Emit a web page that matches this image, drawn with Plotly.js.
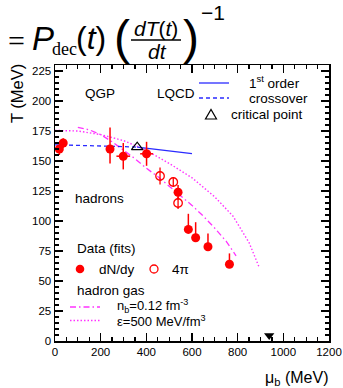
<!DOCTYPE html>
<html><head><meta charset="utf-8">
<script src="https://cdn.plot.ly/plotly-3.0.1.min.js"></script>
<style>html,body{margin:0;padding:0;background:#fff}#plot{width:343px;height:388px}</style>
</head><body><div id="plot"></div>
<script>
// ---- data ----
const dndyMu = [19, 36, 241, 299, 401, 539, 584, 616, 670, 764];
const dndyT = [160, 165, 160, 154, 156, 124, 93, 86, 78.5, 64];
const dndyTErrPlus = [0, 4, 18, 11, 10, 6, 13, 13, 11, 9];
const dndyTErrMinus = [5, 4, 12, 11, 10, 6, 0, 0, 0, 0];
const dndyMuErr = [0, 0, 0, 30, 28, 0, 0, 0, 0, 0];
const fourPiMu = [460, 518, 539];
const fourPiT = [137.5, 132.5, 115];
const fourPiTErr = [7, 4, 5];
const firstOrderMu = [360, 450, 530, 600];
const firstOrderT = [161.5, 159.5, 157.8, 156.2];
const crossoverMu = [0, 100, 200, 300, 360];
const crossoverT = [163.5, 163.2, 162.6, 162.0, 161.5];
const critMu = [360];
const critT = [161.5];
const nbMu = [100, 150, 200, 250, 300, 350, 400, 450, 500, 550, 600, 650, 700, 750, 793];
const nbT = [178, 176, 172, 166, 159, 152, 144, 137, 129, 121, 113, 104, 94, 83, 71];
const epsMu = [0, 100, 200, 300, 400, 500, 600, 700, 780, 850, 895];
const epsT = [175.5, 175, 172, 167, 159, 148, 136, 120, 104, 82, 61];
const nucleonMu = [938];
const nucleonT = [4.5];
const xTicks = [0, 200, 400, 600, 800, 1000, 1200];
const yTicks = [0, 25, 50, 75, 100, 125, 150, 175, 200, 225];

// ---- layout helpers ----
const W = 343, H = 388, L = 55, R = 14, T = 65, B = 47;
const pw = W - L - R, ph = H - T - B;
const px = x => (x - L) / pw;
const py = y => (H - B - y) / ph;
const SANS = 'Liberation Sans, Arial, sans-serif';
const SERIF = 'Liberation Serif, Times New Roman, serif';
const RED = '#ff0000', BLUE = '#2a2aff', MAG = '#ff33ff';
const DASH = '4px,3px', DASHDOT = '6px,3px,1.5px,3px', DOT = '1.5px,2px';

const traces = [
  {x: epsMu, y: epsT, mode: 'lines', line: {color: MAG, width: 1.4, dash: DOT}},
  {x: nbMu, y: nbT, mode: 'lines', line: {color: MAG, width: 1.3, dash: DASHDOT}},
  {x: crossoverMu, y: crossoverT, mode: 'lines', line: {color: BLUE, width: 1.3, dash: DASH}},
  {x: firstOrderMu, y: firstOrderT, mode: 'lines', line: {color: BLUE, width: 1.3}},
  {x: dndyMu, y: dndyT, mode: 'markers', marker: {color: RED, size: 9, symbol: 'circle'},
   error_y: {type: 'data', symmetric: false, array: dndyTErrPlus, arrayminus: dndyTErrMinus, color: RED, thickness: 1.5, width: 0},
   error_x: {type: 'data', array: dndyMuErr, color: RED, thickness: 1.5, width: 0}},
  {x: fourPiMu, y: fourPiT, mode: 'markers', marker: {color: RED, size: 8.5, symbol: 'circle-open', line: {color: RED, width: 1.3}},
   error_y: {type: 'data', array: fourPiTErr, color: RED, thickness: 1.3, width: 0}},
  {x: critMu, y: critT, mode: 'markers', marker: {color: '#000', size: 10, symbol: 'triangle-up-open', line: {color: '#000', width: 1.2}}},
  {x: nucleonMu, y: nucleonT, mode: 'markers', marker: {color: '#000', size: 9, symbol: 'triangle-down'}}
];

function txt(text, x, y, size, opts) {
  return Object.assign({text: text, x: px(x), y: py(y), xref: 'paper', yref: 'paper', showarrow: false,
    xanchor: 'left', yanchor: 'middle', font: {family: SANS, size: size, color: '#000'}}, opts || {});
}

const annotations = [
  // formula strip at top
  txt('=', 16, 40, 30, {xanchor: 'center', font: {family: SERIF, size: 30, color: '#000'}}),
  txt('<i>P</i>', 43, 38, 33, {xanchor: 'center'}),
  txt('dec', 50, 49, 18, {font: {family: SERIF, size: 18, color: '#000'}}),
  txt('(<i>t</i>)', 74, 38, 32),
  txt('(', 112, 37, 48),
  txt('<i>dT</i>(<i>t</i>)', 156, 28, 21, {xanchor: 'center'}),
  txt('<i>dt</i>', 157, 51, 21, {xanchor: 'center'}),
  txt(')', 181, 37, 48),
  txt('\u22121', 199, 12, 21),
  // axis titles
  txt('T (MeV)', 17, 94, 16.5, {xanchor: 'center', textangle: -90}),
  txt('\u03bc<sub>b</sub> (MeV)', 296, 378, 16, {xanchor: 'center'}),
  // labels in plot
  txt('QGP', 83, 93, 13.5),
  txt('LQCD', 155, 93, 13.5),
  txt('1<sup>st</sup> order', 247, 82, 13.5),
  txt('crossover', 247, 98, 13.5),
  txt('critical point', 229, 114, 13.5),
  txt('hadrons', 73, 198, 13.5),
  txt('Data (fits)', 75, 248, 13.5),
  txt('dN/dy', 97, 269, 13.5),
  txt('4\u03c0', 170, 269, 13.5),
  txt('hadron gas', 75, 290, 13.5),
  txt('n<sub>b</sub>=0.12 fm<sup>-3</sup>', 115, 305.5, 13),
  txt('\u03b5=500 MeV/fm<sup>3</sup>', 115, 321, 13)
];

const shapes = [
  {type: 'line', xref: 'paper', yref: 'paper', x0: px(131), x1: px(181), y0: py(40), y1: py(40), line: {color: '#000', width: 1.3}},
  {type: 'line', xref: 'paper', yref: 'paper', x0: px(199), x1: px(229), y0: py(83), y1: py(83), line: {color: BLUE, width: 1.3}},
  {type: 'line', xref: 'paper', yref: 'paper', x0: px(199), x1: px(229), y0: py(98), y1: py(98), line: {color: BLUE, width: 1.3, dash: DASH}},
  {type: 'path', xref: 'paper', yref: 'paper', path: 'M' + px(205.5) + ',' + py(119) + ' L' + px(216.5) + ',' + py(119) + ' L' + px(211) + ',' + py(109.5) + ' Z', line: {color: '#000', width: 1.2}},
  {type: 'circle', xref: 'paper', yref: 'paper', x0: px(75.7), x1: px(84.3), y0: py(264.7), y1: py(273.3), fillcolor: RED, line: {color: RED, width: 0}},
  {type: 'circle', xref: 'paper', yref: 'paper', x0: px(150), x1: px(158), y0: py(265), y1: py(273), line: {color: RED, width: 1.3}},
  {type: 'line', xref: 'paper', yref: 'paper', x0: px(70), x1: px(100), y0: py(307), y1: py(307), line: {color: MAG, width: 1.3, dash: DASHDOT}},
  {type: 'line', xref: 'paper', yref: 'paper', x0: px(70), x1: px(100), y0: py(320.5), y1: py(320.5), line: {color: MAG, width: 1.4, dash: DOT}}
];

const axisCommon = {showgrid: false, zeroline: false, showline: true, linecolor: '#000', linewidth: 1.5,
  ticks: 'inside', ticklen: 8, tickwidth: 1.2, tickcolor: '#000', mirror: 'allticks',
  tickfont: {family: SANS, size: 11.5, color: '#000'}};

const layout = {
  width: W, height: H, margin: {l: L, r: R, t: T, b: B},
  paper_bgcolor: '#fff', plot_bgcolor: '#fff', showlegend: false,
  xaxis: Object.assign({}, axisCommon, {range: [0, 1200], tickvals: xTicks, ticktext: xTicks.map(String),
    minor: {dtick: 50, tick0: 0, ticks: 'inside', ticklen: 4, tickwidth: 1.2, tickcolor: '#000'}}),
  yaxis: Object.assign({}, axisCommon, {range: [0, 230], tickvals: yTicks, ticktext: yTicks.map(String),
    minor: {dtick: 5, tick0: 0, ticks: 'inside', ticklen: 4, tickwidth: 1.2, tickcolor: '#000'}}),
  annotations: annotations, shapes: shapes
};

Plotly.newPlot('plot', traces, layout, {staticPlot: true, displayModeBar: false});
</script></body></html>
